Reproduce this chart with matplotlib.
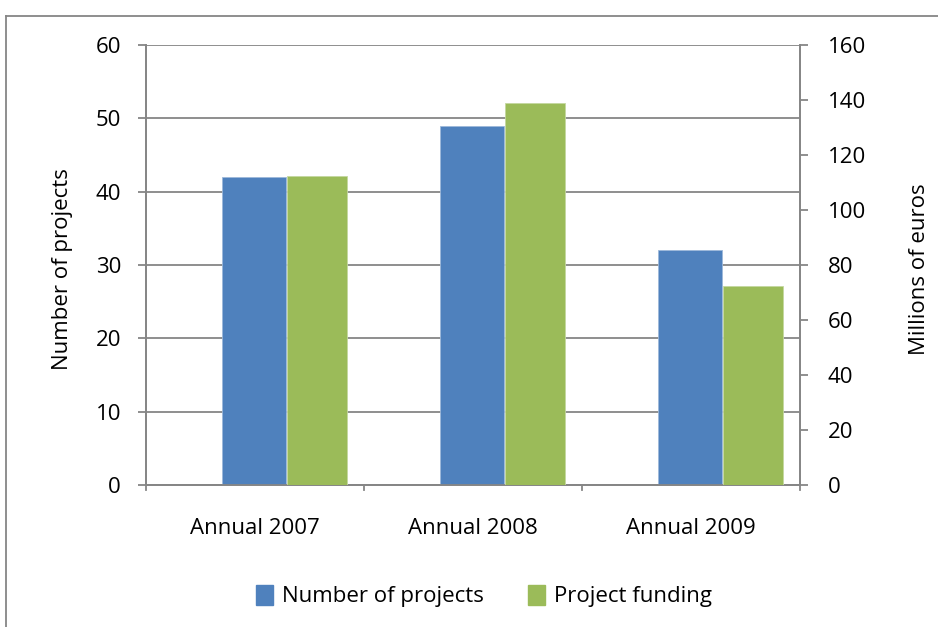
import matplotlib
matplotlib.use("Agg")
import matplotlib.pyplot as plt
from matplotlib.lines import Line2D
from matplotlib.patches import Rectangle
import numpy as np

categories = ["Annual 2007", "Annual 2008", "Annual 2009"]
num_projects = [42, 49, 32]
funding = [112.5, 139, 72.5]
left_ticks = [0, 10, 20, 30, 40, 50, 60]
right_ticks = [0, 20, 40, 60, 80, 100, 120, 140, 160]

plt.rcParams['font.family'] = ['Open Sans', 'DejaVu Sans']
blue = "#4F81BD"
green = "#9BBB59"
gray = "#868686"
fs = 16

fig = plt.figure(figsize=(9.38, 6.27), dpi=100)
W, H = 938, 627
ax = fig.add_axes([146 / W, 1 - 485 / H, (800 - 146) / W, (485 - 45) / H])
ax2 = ax.twinx()

x = np.arange(len(categories))
ax.bar(x - 0.005, num_projects, width=0.294, color=blue, edgecolor="#9DB8DA", linewidth=0.6, zorder=3)
ax2.bar(x + 0.285, funding, width=0.276, color=green, edgecolor="#C4D8A0", linewidth=0.6, zorder=3)

ax.set_xlim(-0.5, 2.5)
ax.set_ylim(0, 60)
ax2.set_ylim(0, 160)
ax.set_yticks(left_ticks)
ax2.set_yticks(right_ticks)
ax.yaxis.grid(True, color=gray, linewidth=1.3, zorder=0)
ax.set_axisbelow(True)

ax.set_xticks(x)
ax.set_xticklabels(categories, fontsize=fs)
ax.tick_params(axis='x', length=0, pad=24)
for b in [-0.5, 0.5, 1.5, 2.5]:
    ax.plot([b, b], [0, -0.012], transform=ax.get_xaxis_transform(), color=gray,
            linewidth=1.3, clip_on=False)

ax.tick_params(axis='y', direction='out', length=6, width=1.3, color=gray, labelsize=fs, pad=12)
ax2.tick_params(axis='y', direction='out', length=6, width=1.3, color=gray, labelsize=fs, pad=14)

for a in (ax, ax2):
    a.spines['top'].set_visible(False)
    for s in ('left', 'right', 'bottom'):
        a.spines[s].set_color(gray)
        a.spines[s].set_linewidth(1.3)

ax.set_ylabel("Number of projects", fontsize=fs)
ax.yaxis.set_label_coords((73 - 146) / 654, 0.49)
ax2.set_ylabel("Millions of euros", fontsize=fs, rotation=90)
ax2.yaxis.set_label_coords((909 - 146) / 654, 0.49)

# outer chart frame
fig.add_artist(Line2D([6 / W, 6 / W], [0, 1 - 16 / H], color=gray, linewidth=1.3))
fig.add_artist(Line2D([6 / W, 1], [1 - 16 / H, 1 - 16 / H], color=gray, linewidth=1.3))

handles = [Rectangle((0, 0), 1, 1, color=blue), Rectangle((0, 0), 1, 1, color=green)]
fig.legend(handles, ["Number of projects", "Project funding"], loc='center',
           bbox_to_anchor=(484 / W, 1 - 596 / H), ncol=2, frameon=False, fontsize=fs,
           handlelength=0.75, handleheight=1.0, handletextpad=0.4, columnspacing=2.0)

fig.savefig("out.png", dpi=100)
